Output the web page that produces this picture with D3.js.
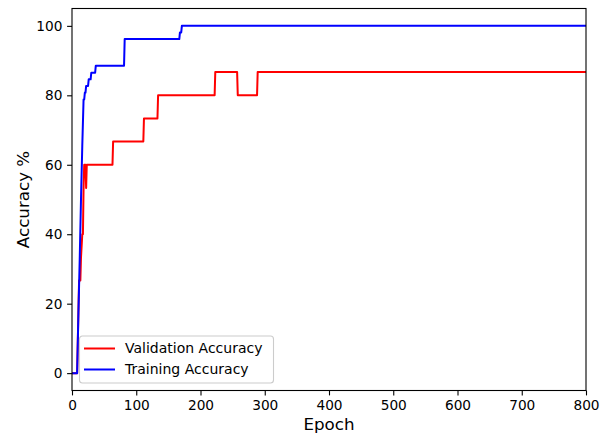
<!DOCTYPE html>
<html>
<head>
<meta charset="utf-8">
<script src="https://cdn.jsdelivr.net/npm/d3@7"></script>
<style>
  body { margin: 0; background: #fff; }
  svg { display: block; font-family: "DejaVu Sans", sans-serif; }
</style>
</head>
<body>
<div id="chart"></div>
<script>
// epochs where the curve changes, and the accuracy at that epoch
const trainEpochs = [0, 8, 10, 12, 14, 16, 18, 19, 20, 21, 22, 25, 26, 29, 30, 36, 37, 81, 82, 167, 168, 170, 171, 800];
const trainAcc    = [0, 0, 17.3, 32.7, 50, 65.4, 78.8, 78.8, 80.8, 80.8, 82.7, 82.7, 84.6, 84.6, 86.5, 86.5, 88.5, 88.5, 96.2, 96.2, 98.1, 98.1, 100, 100];

const valEpochs = [0, 8, 11, 13, 14, 16, 17, 18, 19, 21, 22, 23, 63, 64, 111, 112, 133, 134, 222, 223, 257, 258, 288, 289, 800];
const valAcc    = [0, 0, 26.7, 26.7, 33.3, 40, 40, 53.3, 60, 60, 53.3, 60, 60, 66.7, 66.7, 73.3, 73.3, 80, 80, 86.7, 86.7, 80, 80, 86.7, 86.7];

const xTicks = [0, 100, 200, 300, 400, 500, 600, 700, 800];
const yTicks = [0, 20, 40, 60, 80, 100];

const series = [
  { name: "Validation Accuracy", color: "#ff0000", epochs: valEpochs, acc: valAcc },
  { name: "Training Accuracy", color: "#0000ff", epochs: trainEpochs, acc: trainAcc }
];

const width = 602, height = 434;
const margin = { left: 72, right: 16, top: 8.5, bottom: 43.5 };

const svg = d3.select("#chart").append("svg")
  .attr("width", width)
  .attr("height", height);

const x = d3.scaleLinear().domain([0, 800]).range([margin.left, width - margin.right]);
const y = d3.scaleLinear().domain([-5, 105]).range([height - margin.bottom, margin.top]);

// lines
const line = d3.line()
  .x(d => x(d[0]))
  .y(d => y(d[1]));

const plot = svg.append("g");
series.forEach(s => {
  const pts = s.epochs.map((e, i) => [e, s.acc[i]]);
  plot.append("path")
    .datum(pts)
    .attr("fill", "none")
    .attr("stroke", s.color)
    .attr("stroke-width", 2)
    .attr("stroke-linejoin", "round")
    .attr("d", line);
});

// axes
const xAxis = svg.append("g")
  .attr("transform", `translate(0,${height - margin.bottom})`)
  .call(d3.axisBottom(x).tickValues(xTicks).tickSize(4.9).tickPadding(4.6));
const yAxis = svg.append("g")
  .attr("transform", `translate(${margin.left},0)`)
  .call(d3.axisLeft(y).tickValues(yTicks).tickSize(4.9).tickPadding(4.6));

[xAxis, yAxis].forEach(a => {
  a.select(".domain").remove();
  a.selectAll("text").attr("font-size", 13.7).attr("fill", "#000")
    .attr("font-family", "DejaVu Sans, sans-serif");
  a.selectAll("line").attr("stroke", "#000").attr("stroke-width", 1.1);
});

// frame
svg.append("rect")
  .attr("x", margin.left)
  .attr("y", margin.top)
  .attr("width", width - margin.left - margin.right)
  .attr("height", height - margin.top - margin.bottom)
  .attr("fill", "none")
  .attr("stroke", "#000")
  .attr("stroke-width", 1.1);

// axis labels
svg.append("text")
  .attr("x", (margin.left + width - margin.right) / 2)
  .attr("y", 429.5)
  .attr("text-anchor", "middle")
  .attr("font-size", 16.7)
  .text("Epoch");

svg.append("text")
  .attr("transform", `translate(29,${(margin.top + height - margin.bottom) / 2}) rotate(-90)`)
  .attr("text-anchor", "middle")
  .attr("font-size", 16.7)
  .text("Accuracy %");

// legend
const legend = svg.append("g").attr("transform", "translate(79.5,336)");
legend.append("rect")
  .attr("width", 194)
  .attr("height", 47)
  .attr("rx", 3)
  .attr("fill", "#fff")
  .attr("fill-opacity", 0.8)
  .attr("stroke", "#cccccc")
  .attr("stroke-width", 1.1);

series.forEach((s, i) => {
  const gy = 12.5 + i * 21;
  legend.append("line")
    .attr("x1", 4.5).attr("x2", 35.5)
    .attr("y1", gy).attr("y2", gy)
    .attr("stroke", s.color)
    .attr("stroke-width", 2);
  legend.append("text")
    .attr("x", 45.5)
    .attr("y", gy)
    .attr("dy", "0.35em")
    .attr("font-size", 14)
    .text(s.name);
});
</script>
</body>
</html>
